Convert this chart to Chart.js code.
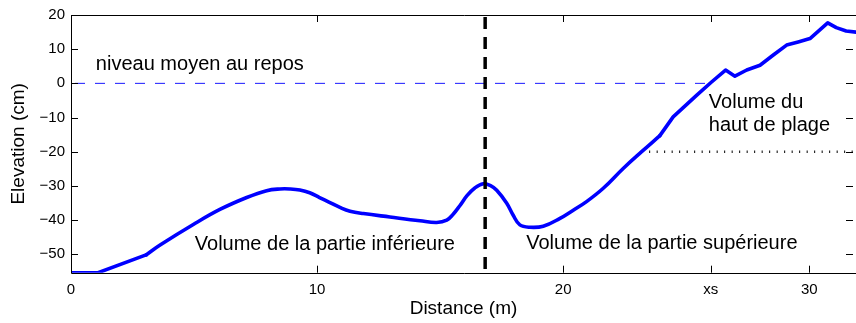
<!DOCTYPE html>
<html><head><meta charset="utf-8">
<script src="https://cdn.jsdelivr.net/npm/chart.js@4/dist/chart.umd.min.js"></script>
<style>html,body{margin:0;padding:0;background:#fff;overflow:hidden}#wrap{width:856px;height:323px}</style>
</head><body><div id="wrap"><canvas id="c" width="856" height="323"></canvas></div>
<script>
// ---- data ----
const distance = [0, 1.1, 3.05, 3.62, 4.97, 6.05, 7.14, 7.95, 8.49, 8.9, 9.3, 9.7, 10.1, 10.5, 10.93, 11.34, 11.88, 12.96, 14.18, 14.86, 15.27, 15.53, 15.8, 16.1, 16.41, 16.75, 17.05, 17.3, 17.7, 17.97, 18.24, 18.65, 19.19, 19.87, 20.41, 20.95, 21.63, 22.44, 23.19, 23.93, 24.47, 25.42, 26.03, 26.6, 26.98, 27.46, 28.0, 28.54, 29.08, 29.55, 30.03, 30.75, 31.1, 31.5, 31.9];
const elevation = [-55.4, -55.4, -50.2, -47.3, -41.3, -36.9, -33.4, -31.4, -30.9, -30.9, -31.2, -32.0, -33.4, -34.8, -36.3, -37.4, -38.1, -39.1, -40.2, -40.7, -40.0, -38.3, -35.8, -32.8, -30.6, -29.4, -29.9, -31.3, -35.0, -38.6, -41.4, -42.1, -41.8, -39.5, -37.1, -34.6, -30.7, -24.9, -20.0, -15.3, -9.8, -3.5, 0.4, 3.9, 2.1, 3.9, 5.3, 8.3, 11.2, 12.1, 13.1, 17.7, 16.3, 15.3, 15.0];
const xTickValues = [0, 10, 20, 26, 30];
const xTickLabels = ['0', '10', '20', 'xs', '30'];
const yTickValues = [-50, -40, -30, -20, -10, 0, 10, 20];
const meanLevelX = [0, 25.85];
const meanLevelY = [0, 0];
const boundaryX = [16.83, 16.83];
const boundaryY = [20, -55.4];
const upperRefX = [23.19, 31.9];
const upperRefY = [-20, -20];
const annotationTexts = ['niveau moyen au repos', 'Volume de la partie inférieure', 'Volume de la partie supérieure', 'Volume du', 'haut de plage'];
const annotationX = [1.01, 5.03, 18.5, 25.92, 25.92];
const annotationY = [3.8, -48.8, -48.6, -7.3, -13.8];
const xRange = [0, 31.9];
const yRange = [-55.4, 20];
// the profile is drawn in three pieces: straight toe, smooth middle, straight upper beach
const pieceStart = [0, 2, 39];
const pieceEnd = [2, 39, 54];
const pieceTension = [0, 0.4, 0];

const pts = (xs, ys) => xs.map((x, i) => ({x: x, y: ys[i]}));
const FONT = "'Liberation Sans', Arial, Helvetica, sans-serif";

const boxPlugin = {
  id: 'box',
  afterDatasetsDraw(chart) {
    const {ctx, chartArea: a, scales: {x, y}} = chart;
    ctx.save();
    ctx.strokeStyle = '#000';
    ctx.lineWidth = 1;
    ctx.beginPath();
    ctx.rect(Math.round(a.left) + 0.5, Math.round(a.top) + 0.5, a.right - a.left + 2, Math.round(a.bottom) - Math.round(a.top));
    ctx.stroke();
    const L = 7;
    ctx.beginPath();
    xTickValues.forEach(v => {
      const px = Math.round(x.getPixelForValue(v)) + 0.5;
      ctx.moveTo(px, a.bottom); ctx.lineTo(px, a.bottom - L);
      ctx.moveTo(px, a.top); ctx.lineTo(px, a.top + L);
    });
    yTickValues.forEach(v => {
      const py = Math.round(y.getPixelForValue(v)) + 0.5;
      ctx.moveTo(a.left, py); ctx.lineTo(a.left + L, py);
      ctx.moveTo(a.right - 3, py); ctx.lineTo(a.right - 3 - L, py);
    });
    ctx.stroke();
    ctx.fillStyle = '#000';
    ctx.font = '20px ' + FONT;
    ctx.textBaseline = 'alphabetic';
    ctx.textAlign = 'left';
    annotationTexts.forEach((t, i) => {
      ctx.fillText(t, x.getPixelForValue(annotationX[i]), y.getPixelForValue(annotationY[i]));
    });
    ctx.restore();
  }
};

const profile = pts(distance, elevation);
const profileSets = pieceStart.map((s, k) => ({
  data: profile.slice(s, pieceEnd[k] + 1),
  borderColor: '#0000ff', borderWidth: 3.6, pointRadius: 0,
  tension: pieceTension[k], borderCapStyle: 'round', borderJoinStyle: 'round', clip: 0
}));

new Chart(document.getElementById('c'), {
  type: 'line',
  data: {
    datasets: [
      {data: pts(boundaryX, boundaryY), borderColor: '#000', borderWidth: 3.5, borderDash: [12, 8], borderDashOffset: 18, pointRadius: 0, tension: 0},
      ...profileSets,
      {data: pts(meanLevelX, meanLevelY), borderColor: '#1a1aff', borderWidth: 1, borderDash: [10, 10], borderDashOffset: 16, pointRadius: 0},
      {data: pts(upperRefX, upperRefY), borderColor: '#000', borderWidth: 2.5, borderDash: [1, 6.5], pointRadius: 0}
    ]
  },
  options: {
    responsive: false, animation: false, devicePixelRatio: 1,
    layout: {padding: {top: 15, right: 0, bottom: 0, left: 0}},
    plugins: {legend: {display: false}, tooltip: {enabled: false}},
    scales: {
      x: {
        type: 'linear', min: xRange[0], max: xRange[1],
        grid: {display: false, drawTicks: false}, border: {display: false},
        afterBuildTicks: s => { s.ticks = xTickValues.map(v => ({value: v})); },
        afterFit: s => { s.height = 50.3; s.paddingLeft = 0; s.paddingRight = 0; },
        ticks: {autoSkip: false, maxRotation: 0, padding: 8, color: '#000', font: {family: FONT, size: 15},
          callback: (v, i) => xTickLabels[i]},
        title: {display: true, text: 'Distance (m)', color: '#000', font: {family: FONT, size: 19}, padding: {top: 0, bottom: 3}}
      },
      y: {
        type: 'linear', min: yRange[0], max: yRange[1],
        grid: {display: false, drawTicks: false}, border: {display: false},
        afterBuildTicks: s => { s.ticks = yTickValues.map(v => ({value: v})); },
        afterFit: s => { s.width = 71; },
        ticks: {autoSkip: false, padding: 6, color: '#000', font: {family: FONT, size: 15},
          callback: v => String(v).replace('-', '\u2212')},
        title: {display: true, text: 'Elevation (cm)', color: '#000', font: {family: FONT, size: 19}, padding: {top: 7, bottom: 0}}
      }
    }
  },
  plugins: [boxPlugin]
});
</script></body></html>
